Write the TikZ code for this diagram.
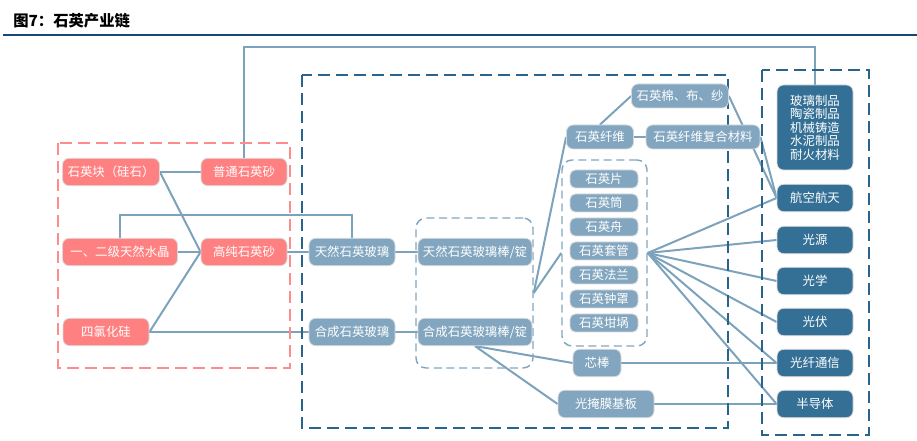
\documentclass[tikz,border=0pt]{standalone}
\usepackage{fontspec}
\setmainfont{Noto Sans CJK SC}
\usetikzlibrary{calc}

\definecolor{redfill}{RGB}{255,128,128}
\definecolor{redframe}{RGB}{255,140,140}
\definecolor{midfill}{RGB}{130,166,191}
\definecolor{darkfill}{RGB}{52,112,150}
\definecolor{darkframe}{RGB}{40,100,140}
\definecolor{linkcol}{RGB}{124,162,188}
\definecolor{titlerule}{RGB}{22,72,118}

\pgfdeclarelayer{links}
\pgfsetlayers{links,main}

\begin{document}
\begin{tikzpicture}[x=0.75pt,y=0.75pt,yscale=-1,xscale=1,
  box/.style={rounded corners=5pt,draw=white!85!black,line width=0.6pt,text=white,
    inner sep=1pt,minimum height=20.5pt,font=\fontsize{9.3}{10.1}\selectfont},
  redbox/.style={box,fill=redfill},
  midbox/.style={box,fill=midfill},
  darkbox/.style={box,fill=darkfill,minimum width=57pt},
  smallbox/.style={box,fill=midfill,minimum width=51pt,minimum height=13.5pt,rounded corners=4pt},
  groupbox/.style={draw=midfill,line width=1.1pt,dash pattern=on 6pt off 3.5pt,rounded corners=7.5pt},
  frame/.style={line width=1.9pt,dash pattern=on 9pt off 4.5pt},
  link/.style={draw=linkcol,line width=1.5pt}]
        \useasboundingbox (0,0) rectangle (917,441);

        % Title
        \node[anchor=west,inner sep=0pt,font=\fontsize{11.5}{13}\selectfont\bfseries] (title) at (13,21) {图7：石英产业链};
        \draw [titlerule,line width=2.2pt] (3,35) -- (917,35);

        %Shape: Rectangle (raw material frame)
        \draw [frame,redframe,line width=1.5pt] (58,143) rectangle (290,368);
        %Shape: Rectangle (processing frame)
        \draw [frame,darkframe] (302,75) rectangle (728,428);
        %Shape: Rectangle (application frame)
        \draw [frame,darkframe] (762,70) rectangle (869,435);

        % group boxes
        \node[groupbox,minimum width=87.75pt,minimum height=112.5pt] (rodgroup) at (474.5,293) {};
        \node[groupbox,minimum width=63.75pt,minimum height=139.5pt] (partgroup) at (604.5,253) {};

        % raw materials
        \node[redbox,minimum width=72.75pt] (lump) at (111,172) {石英块（硅石）};
        \node[redbox,minimum width=64.5pt] (sand) at (244,172) {普通石英砂};
        \node[redbox,minimum width=86.25pt] (crystal) at (120,252) {一、二级天然水晶};
        \node[redbox,minimum width=64.5pt] (hpsand) at (244,252) {高纯石英砂};
        \node[redbox,minimum width=64.5pt] (sicl) at (106,332) {四氯化硅};

        % glass and rods
        \node[midbox,minimum width=64.5pt] (natglass) at (352,252) {天然石英玻璃};
        \node[midbox,minimum width=64.5pt] (synglass) at (352,332) {合成石英玻璃};
        \node[midbox,minimum width=85.5pt] (natrod) at (475,252) {天然石英玻璃棒/锭};
        \node[midbox,minimum width=85.5pt] (synrod) at (475,332) {合成石英玻璃棒/锭};

        % fibre products
        \node[midbox,minimum width=50.25pt,minimum height=18pt] (fibre) at (600,137) {石英纤维};
        \node[midbox,minimum width=72.75pt,minimum height=18pt] (cloth) at (680,96) {石英棉、布、纱};
        \node[midbox,minimum width=85.5pt,minimum height=18pt] (composite) at (703,137) {石英纤维复合材料};

        % quartz parts
        \node[smallbox] (plate) at (604,179) {石英片};
        \node[smallbox] (tube) at (604,203) {石英筒};
        \node[smallbox] (boat) at (604,227) {石英舟};
        \node[smallbox] (sleeve) at (604,251) {石英套管};
        \node[smallbox] (flange) at (604,275) {石英法兰};
        \node[smallbox] (bell) at (604,299) {石英钟罩};
        \node[smallbox] (crucible) at (604,323) {石英坩埚};
        \node[midbox,minimum width=36pt] (preform) at (597,363) {芯棒};
        \node[midbox,minimum width=72pt] (mask) at (606,404) {光掩膜基板};

        % applications
        \node[darkbox,minimum height=63.75pt,align=center] (apps) at (815,127.5) {玻璃制品\\陶瓷制品\\机械铸造\\水泥制品\\耐火材料};
        \node[darkbox] (aero) at (815,198) {航空航天};
        \node[darkbox] (light) at (815,240) {光源};
        \node[darkbox] (optics) at (815,281) {光学};
        \node[darkbox] (pv) at (815,322) {光伏};
        \node[darkbox] (comm) at (815,363) {光纤通信};
        \node[darkbox] (semi) at (815,404) {半导体};

        % links, kept under the boxes and frames
        \begin{pgfonlayer}{links}
        \draw [link] (lump.east) -- (sand.west);
        \draw [link] (lump.east) -- (hpsand.west);
        \draw [link] (crystal.east) -- (hpsand.west);
        \draw [link] (sicl.east) -- (hpsand.west);
        \draw [link] (sicl.east) -- (synglass.west);
        \draw [link] (hpsand.east) -- (natglass.west);
        \draw [link] (crystal.north) -- ++(0,-23) -| (natglass.north);
        \draw [link] (sand.north) -- ++(0,-111) -| (apps.north);
        \draw [link] (natglass.east) -- (natrod.west);
        \draw [link] (synglass.east) -- (synrod.west);
        \draw [link] (rodgroup.east) -- (fibre.west);
        \draw [link] (rodgroup.east) -- (partgroup.west);
        \draw [link] (synrod.south) -- (preform.west);
        \draw [link] (synrod.south) -- (mask.west);
        \draw [link] (fibre.north) -- (cloth.west);
        \draw [link] (fibre.east) -- (composite.west);
        \draw [link] (cloth.east) -- (aero.west);
        \draw [link] (composite.east) -- (aero.west);
        \foreach \app in {aero,light,optics,pv,comm,semi}
          \draw [link] (partgroup.east) -- (\app.west);
        \draw [link] (preform.east) -- (comm.west);
        \draw [link] (mask.east) -- (semi.west);
        \end{pgfonlayer}
\end{tikzpicture}
\end{document}
